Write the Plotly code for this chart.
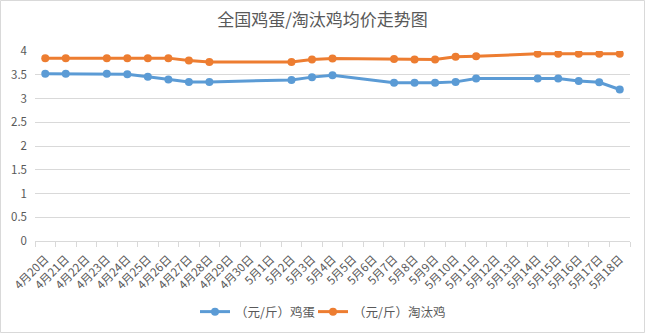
import plotly.graph_objects as go

all_days = ["4月20日", "4月21日", "4月22日", "4月23日", "4月24日", "4月25日", "4月26日",
            "4月27日", "4月28日", "4月29日", "4月30日", "5月1日", "5月2日", "5月3日",
            "5月4日", "5月5日", "5月6日", "5月7日", "5月8日", "5月9日", "5月10日",
            "5月11日", "5月12日", "5月13日", "5月14日", "5月15日", "5月16日", "5月17日", "5月18日"]

obs_days = ["4月20日", "4月21日", "4月23日", "4月24日", "4月25日", "4月26日", "4月27日",
            "4月28日", "5月2日", "5月3日", "5月4日", "5月7日", "5月8日", "5月9日",
            "5月10日", "5月11日", "5月14日", "5月15日", "5月16日", "5月17日", "5月18日"]

egg = [3.52, 3.52, 3.52, 3.51, 3.46, 3.40, 3.35, 3.35, 3.39, 3.45, 3.49,
       3.33, 3.33, 3.33, 3.35, 3.42, 3.42, 3.42, 3.37, 3.34, 3.19]
hen = [3.85, 3.85, 3.85, 3.85, 3.85, 3.85, 3.80, 3.77, 3.77, 3.82, 3.84,
       3.83, 3.82, 3.82, 3.88, 3.89, 3.94, 3.94, 3.94, 3.94, 3.94]

y_ticks = [0, 0.5, 1, 1.5, 2, 2.5, 3, 3.5, 4]
y_labels = ["0", "0.5", "1", "1.5", "2", "2.5", "3", "3.5", "4"]

FONT = "Noto Sans CJK SC"
GRAY = "#595959"
GRID = "#d9d9d9"

fig = go.Figure()
fig.add_trace(go.Scatter(x=obs_days, y=egg, mode="lines+markers", name="（元/斤）鸡蛋",
                         line=dict(color="#5B9BD5", width=3),
                         marker=dict(color="#5B9BD5", size=8), legend="legend"))
fig.add_trace(go.Scatter(x=obs_days, y=hen, mode="lines+markers", name="（元/斤）淘汰鸡",
                         line=dict(color="#ED7D31", width=3),
                         marker=dict(color="#ED7D31", size=8), legend="legend2"))

L, R, T, B = 35, 15, 51, 92
W, H = 645, 333
pw, ph = W - L - R, H - T - B

leg_common = dict(orientation="h", xanchor="left", yanchor="middle",
                  y=(241 - 312) / ph,
                  font=dict(family=FONT, size=12.5, color=GRAY),
                  itemwidth=30, bgcolor="rgba(0,0,0,0)")

fig.update_layout(
    width=W, height=H,
    margin=dict(l=L, r=R, t=T, b=B, pad=0, autoexpand=False),
    paper_bgcolor="white", plot_bgcolor="white",
    font=dict(family=FONT, color=GRAY, size=11),
    title=dict(text="全国鸡蛋/淘汰鸡均价走势图", x=0.5, xanchor="center",
               y=1 - 20 / H, yanchor="middle",
               font=dict(family=FONT, size=17, color=GRAY)),
    showlegend=True,
    legend=dict(x=(200 - 35 - 5) / pw, **leg_common),
    legend2=dict(x=(318 - 35 - 5) / pw, **leg_common),
    xaxis=dict(type="category", categoryorder="array", categoryarray=all_days,
               tickmode="array", tickvals=all_days, ticktext=all_days,
               range=[-0.5, len(all_days) - 0.5],
               tickangle=-45, tickfont=dict(family=FONT, size=11.5, color=GRAY),
               showline=True, linecolor=GRID, linewidth=1,
               ticks="outside", tickson="boundaries", ticklen=5, tickcolor=GRID,
               ticklabelstandoff=6, automargin=False,
               showgrid=False, zeroline=False, fixedrange=True),
    yaxis=dict(range=[0, 4], tickmode="array", tickvals=y_ticks, ticktext=y_labels,
               tickfont=dict(family=FONT, size=11.5, color=GRAY),
               showgrid=True, gridcolor=GRID, gridwidth=1,
               showline=False, zeroline=False, ticks="", ticklabelstandoff=7,
               automargin=False, fixedrange=True),
    shapes=[dict(type="rect", xref="paper", yref="paper",
                 x0=(0.5 - L) / pw, x1=(W - 0.5 - L) / pw,
                 y0=(241 - (H - 0.5)) / ph, y1=(241 - 0.5) / ph,
                 line=dict(color=GRID, width=1), fillcolor="rgba(0,0,0,0)", layer="below")],
)

fig.write_html("out.html")
